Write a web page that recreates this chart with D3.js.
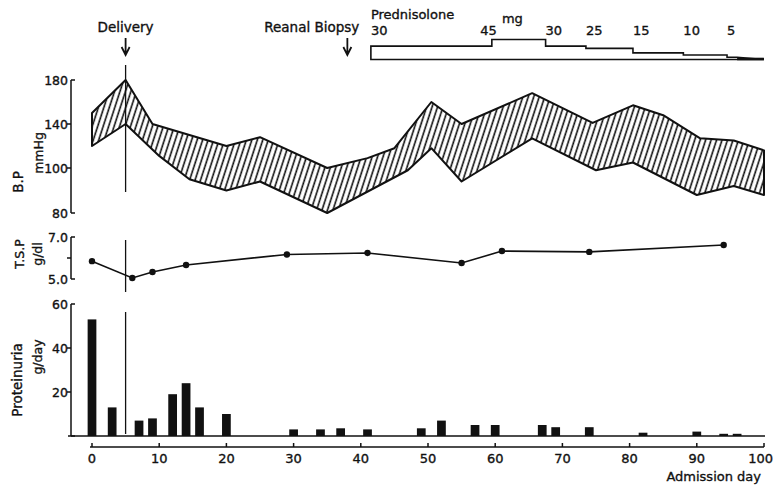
<!DOCTYPE html>
<html lang="en">
<head>
  <meta charset="UTF-8">
  <title>Clinical course</title>
</head>
<body style="margin:0; background-color:#fff">
  <style>
    svg{display:block; font-family:"DejaVu Sans", sans-serif; fill:#111}
    svg text{stroke:#111; stroke-width:0.35px}
    .ax{stroke:#111; stroke-width:1.5; fill:none}
  </style>
  <div id="chart"></div>
  <script src="https://d3js.org/d3.v7.min.js"></script>
  <script>
  // DATA
  const bpUpperDays = [0, 5, 9, 20, 25, 35, 41, 45, 50.5, 55, 65.5, 74.5, 80.5, 85, 90.5, 95.5, 100];
  const bpUpper     = [150, 180, 140, 120, 128, 100, 109, 118, 160, 140, 168, 141, 157, 148, 127, 125, 116];
  const bpLowerDays = [0, 5, 10, 14.5, 20, 25, 35, 47, 50.5, 55, 65.5, 75, 80.5, 90, 95.5, 100];
  const bpLower     = [120, 140, 111, 95, 90, 94, 80, 99, 118, 94, 127, 99, 105, 88, 92, 88];

  const tspDays = [0, 6, 9, 14, 29, 41, 55, 61, 74, 94];
  const tsp     = [5.85, 5.05, 5.33, 5.67, 6.17, 6.24, 5.76, 6.33, 6.29, 6.62];

  const proDays = [0, 3, 7, 9, 12, 14, 16, 20, 30, 34, 37, 41, 49, 52, 57, 60, 67, 69, 74, 82, 90, 94, 96];
  const protein = [53, 13, 7, 8, 19, 24, 13, 10, 3, 3, 3.5, 3, 3.5, 7, 5, 5, 5, 4, 4, 1.5, 2, 1, 1];

  const doseStart = [41.5, 59.5, 67.5, 73.5, 80.5, 88, 94.5];
  const doseEnd   = [59.5, 67.5, 73.5, 80.5, 88, 94.5, 96];
  const dose      = [30, 45, 30, 25, 15, 10, 5];

  const events = [{label: "Delivery", day: 5}, {label: "Reanal Biopsy", day: 38}];

  const xTicks = [0, 10, 20, 30, 40, 50, 60, 70, 80, 90, 100];
  const bpTicks = [80, 100, 140, 180];
  const tspTicks = [5, 6, 7];
  const proTicks = [0, 20, 40, 60];

  // SCALES
  const width = 774, height = 486;
  const x = d3.scaleLinear([0, 100], [92, 764]);
  const yBP = d3.scaleLinear([80, 100, 180], [213, 168, 80]);
  const yTSP = d3.scaleLinear([5, 7], [279, 237]);
  const yPro = d3.scaleLinear([0, 60], [436, 304]);
  const yDose = d3.scaleLinear([0, 45], [59.5, 39.5]);
  const axisX = 71;

  const svg = d3.select("#chart").append("svg")
    .attr("width", width).attr("height", height);

  // hatch pattern
  svg.append("defs").append("pattern")
    .attr("id", "hatch")
    .attr("patternUnits", "userSpaceOnUse")
    .attr("width", 5.2).attr("height", 10)
    .attr("patternTransform", "rotate(18)")
    .append("line")
    .attr("x1", 2).attr("x2", 2).attr("y1", 0).attr("y2", 10)
    .attr("stroke", "#111").attr("stroke-width", 1.6);

  // BP BAND
  const upperPts = bpUpperDays.map((d, i) => [x(d), yBP(bpUpper[i])]);
  const lowerPts = bpLowerDays.map((d, i) => [x(d), yBP(bpLower[i])]).reverse();
  svg.append("path")
    .attr("d", d3.line()(upperPts.concat(lowerPts)) + "Z")
    .attr("fill", "url(#hatch)")
    .attr("stroke", "#111").attr("stroke-width", 2)
    .attr("stroke-linejoin", "round");

  // Y AXES (capped ends point right, inner ticks point left)
  function yAxis(scale, ticks, fmt) {
    const g = svg.append("g");
    const [lo, hi] = d3.extent(ticks);
    g.append("line").attr("class", "ax")
      .attr("x1", axisX).attr("x2", axisX)
      .attr("y1", scale(hi)).attr("y2", scale(lo));
    ticks.forEach(t => {
      const end = (t === lo || t === hi);
      g.append("line").attr("class", "ax")
        .attr("x1", axisX).attr("x2", end ? axisX + 4 : axisX - 4)
        .attr("y1", scale(t)).attr("y2", scale(t));
      if (fmt(t) !== "") {
        g.append("text")
          .attr("x", axisX - 3).attr("y", scale(t) + 4.5)
          .attr("text-anchor", "end").attr("font-size", 12.5)
          .text(fmt(t));
      }
    });
    return g;
  }
  yAxis(yBP, bpTicks, d => d);
  yAxis(yTSP, tspTicks, d => d === 6 ? "" : d.toFixed(1));
  yAxis(yPro, proTicks, d => d === 0 ? "" : d);

  // axis titles
  function vTitle(txt, cx, cy, size) {
    svg.append("text")
      .attr("transform", `translate(${cx},${cy}) rotate(-90)`)
      .attr("text-anchor", "middle").attr("font-size", size)
      .text(txt);
  }
  vTitle("B.P", 23, 182, 13.5);
  vTitle("mmHg", 43, 153, 12.5);
  vTitle("T.S.P", 24, 254, 12.5);
  vTitle("g/dl", 42, 254, 12.5);
  vTitle("Proteinuria", 22, 380, 13.5);
  vTitle("g/day", 42, 357, 12.5);

  // TSP LINE
  svg.append("path")
    .attr("d", d3.line()(tspDays.map((d, i) => [x(d), yTSP(tsp[i])])))
    .attr("fill", "none").attr("stroke", "#111").attr("stroke-width", 1.6);
  svg.append("g").selectAll("circle")
    .data(tspDays)
    .join("circle")
    .attr("cx", d => x(d))
    .attr("cy", (d, i) => yTSP(tsp[i]))
    .attr("r", 3.2)
    .attr("fill", "#111");

  // PROTEINURIA BARS
  const barW = x(1.3) - x(0);
  svg.append("g").selectAll("rect")
    .data(proDays)
    .join("rect")
    .attr("x", d => x(d) - barW / 2)
    .attr("y", (d, i) => yPro(protein[i]))
    .attr("width", barW)
    .attr("height", (d, i) => yPro(0) - yPro(protein[i]))
    .attr("fill", "#111");
  svg.append("line").attr("class", "ax")
    .attr("x1", axisX - 3).attr("x2", x(100) + 1)
    .attr("y1", yPro(0)).attr("y2", yPro(0))
    .attr("stroke-width", 2);

  // X AXIS
  const xAxisY = 447;
  svg.append("line").attr("class", "ax")
    .attr("x1", x(0) - 2).attr("x2", x(100))
    .attr("y1", xAxisY).attr("y2", xAxisY);
  const xt = svg.append("g").selectAll("g").data(xTicks).join("g");
  xt.append("line").attr("class", "ax")
    .attr("x1", d => x(d)).attr("x2", d => x(d))
    .attr("y1", xAxisY).attr("y2", xAxisY - 4);
  xt.append("text")
    .attr("x", d => d === 100 ? width - 1 : x(d)).attr("y", 463)
    .attr("text-anchor", d => d === 100 ? "end" : "middle")
    .attr("font-size", 13)
    .text(d => d);
  svg.append("text")
    .attr("x", x(100) - 3).attr("y", 481)
    .attr("text-anchor", "end").attr("font-size", 13)
    .text("Admission day");

  // DELIVERY LINE across panels
  [[65, 192], [240, 292], [312, 434]].forEach(([a, b]) => {
    svg.append("line")
      .attr("x1", x(5)).attr("x2", x(5))
      .attr("y1", a).attr("y2", b)
      .attr("stroke", "#111").attr("stroke-width", 1.3);
  });

  // EVENT ARROWS
  events.forEach((e, i) => {
    const ax = x(e.day);
    svg.append("path")
      .attr("d", `M${ax},38V55M${ax - 4},47L${ax},55L${ax + 4},47`)
      .attr("fill", "none").attr("stroke", "#111").attr("stroke-width", 1.8);
    svg.append("text")
      .attr("x", i === 0 ? ax : ax + 12).attr("y", 32)
      .attr("text-anchor", i === 0 ? "middle" : "end")
      .attr("font-size", 13.5)
      .text(e.label);
  });

  // PREDNISOLONE STEPS
  const stepPts = [[x(doseStart[0]), yDose(0)]];
  dose.forEach((v, i) => {
    stepPts.push([x(doseStart[i]), yDose(v)]);
    stepPts.push([x(doseEnd[i]), yDose(v)]);
  });
  stepPts.push([x(100), yDose(0)]);
  svg.append("path")
    .attr("d", d3.line()(stepPts) + "Z")
    .attr("fill", "none").attr("stroke", "#111").attr("stroke-width", 1.6);
  svg.append("line")
    .attr("x1", x(doseEnd[6])).attr("x2", x(100))
    .attr("y1", yDose(0) - 0.5).attr("y2", yDose(0) - 0.5)
    .attr("stroke", "#111").attr("stroke-width", 2.6);
  dose.forEach((v, i) => {
    svg.append("text")
      .attr("x", v === 45 ? x(doseStart[i]) + 5 : x(doseStart[i]))
      .attr("y", 35)
      .attr("text-anchor", v === 45 ? "end" : "start")
      .attr("font-size", 13)
      .text(v);
  });
  svg.append("text").attr("x", x(doseStart[0])).attr("y", 19)
    .attr("font-size", 13).text("Prednisolone");
  svg.append("text").attr("x", x(61)).attr("y", 23)
    .attr("font-size", 13).text("mg");
  </script>
</body>
</html>
